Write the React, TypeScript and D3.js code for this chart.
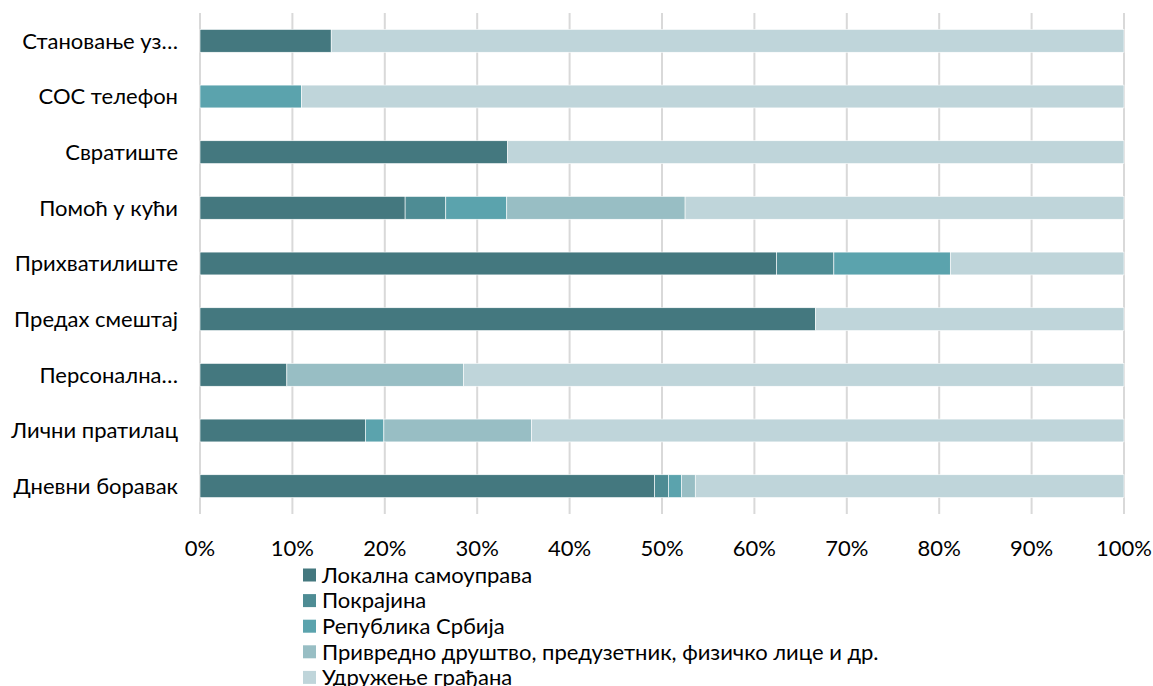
import React from "react";
import * as d3 from "d3";

const categories = [
  "Становање уз…",
  "СОС телефон",
  "Свратиште",
  "Помоћ у кући",
  "Прихватилиште",
  "Предах смештај",
  "Персонална…",
  "Лични пратилац",
  "Дневни боравак",
];

const seriesNames = [
  "Локална самоуправа",
  "Покрајина",
  "Република Србија",
  "Привредно друштво, предузетник, физичко лице и др.",
  "Удружење грађана",
];

const lokalna = [14.2, 0, 33.3, 22.2, 62.4, 66.6, 9.4, 17.9, 49.2];
const pokrajina = [0, 0, 0, 4.4, 6.2, 0, 0, 0, 1.5];
const republika = [0, 11.0, 0, 6.6, 12.6, 0, 0, 2.0, 1.4];
const privredno = [0, 0, 0, 19.3, 0, 0, 19.1, 16.0, 1.5];
const udruzenje = [85.8, 89.0, 66.7, 47.5, 18.8, 33.4, 71.5, 64.1, 46.4];

const colors = ["#44787F", "#4E8C94", "#5BA3AD", "#98BEC4", "#BFD5DA"];
const ticks = [0, 10, 20, 30, 40, 50, 60, 70, 80, 90, 100];

const W = 1153;
const H = 686;
const FONT = "Lato, 'Open Sans', sans-serif";
const FS = 22;

export default function App() {
  const seriesData = [lokalna, pokrajina, republika, privredno, udruzenje];
  const x = d3.scaleLinear().domain([0, 100]).range([200, 1124]);
  const y = d3.scaleBand<string>().domain(categories).range([13, 514]).paddingInner(0.59).paddingOuter(0.295);

  const rows = categories.map((c, i) => {
    const r: Record<string, number | string> = { cat: c };
    seriesNames.forEach((s, k) => (r[s] = seriesData[k][i]));
    return r;
  });
  const stack = d3.stack<Record<string, number | string>>().keys(seriesNames)(rows as any);

  return (
    <svg width={W} height={H} style={{ position: "absolute", left: 0, top: 0, background: "#fff" }} fontFamily={FONT}>
      {ticks.map((t) => (
        <line key={t} x1={x(t)} x2={x(t)} y1={13} y2={514} stroke="#D9D9D9" strokeWidth={2} />
      ))}
      {stack.map((layer, k) => (
        <g key={k} fill={colors[k]}>
          {layer.map((d, i) => {
            const w = x(d[1]) - x(d[0]);
            if (w <= 0) return null;
            return (
              <rect
                key={i}
                x={x(d[0])}
                y={y(categories[i])!}
                width={w}
                height={y.bandwidth()}
                stroke="#fff"
                strokeWidth={0.6}
              />
            );
          })}
        </g>
      ))}
      {categories.map((c) => (
        <text key={c} x={178} y={y(c)! + y.bandwidth() / 2} dy="0.35em" textAnchor="end" fontSize={FS} fill="#000">
          {c}
        </text>
      ))}
      {ticks.map((t) => (
        <text key={t} x={x(t)} y={548} dy="0.35em" textAnchor="middle" fontSize={FS} fill="#000">
          {t}%
        </text>
      ))}
      {seriesNames.map((s, k) => (
        <g key={s} transform={`translate(303,${575 + k * 25.6})`}>
          <rect x={0} y={-6.5} width={13} height={13} fill={colors[k]} />
          <text x={19} y={0} dy="0.35em" fontSize={FS} fill="#000">
            {s}
          </text>
        </g>
      ))}
    </svg>
  );
}
